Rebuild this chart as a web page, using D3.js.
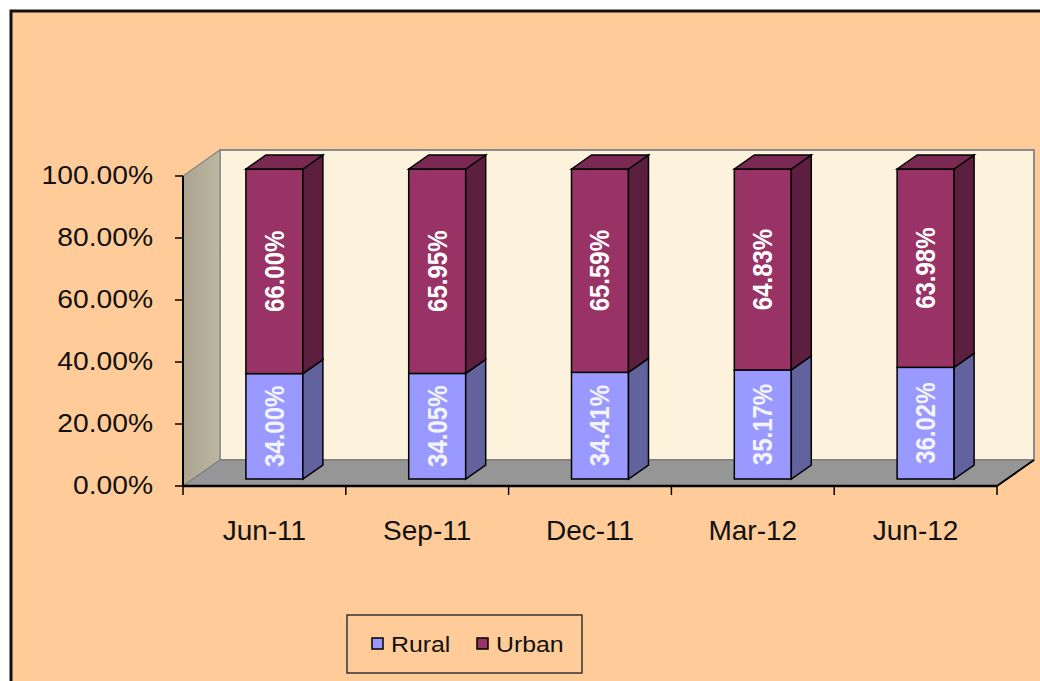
<!DOCTYPE html>
<html>
<head>
<meta charset="utf-8">
<script src="https://cdn.jsdelivr.net/npm/d3@7"></script>
<style>
  html, body { margin: 0; padding: 0; background: #fff; }
  svg { display: block; font-family: "Liberation Sans", Arial, sans-serif; }
</style>
</head>
<body>
<div id="chart"></div>
<script>
// Chart data
const categories = ["Jun-11", "Sep-11", "Dec-11", "Mar-12", "Jun-12"];
const rural = [34.00, 34.05, 34.41, 35.17, 36.02];
const urban = [66.00, 65.95, 65.59, 64.83, 63.98];
const yTicks = [0, 20, 40, 60, 80, 100];
const seriesNames = ["Rural", "Urban"];

const width = 1040, height = 681;

// 3D geometry: wall depth and bar depth
const wallDX = 37, wallDY = 26;
const barOffX = 10, barOffY = 7;
const barDX = 20, barDY = 14;

const svg = d3.select("#chart")
  .append("svg")
  .attr("width", width)
  .attr("height", height);

// Outer frame
svg.append("rect")
  .attr("x", 11).attr("y", 11)
  .attr("width", 1200).attr("height", 1000)
  .attr("fill", "#ffcc99")
  .attr("stroke", "#111")
  .attr("stroke-width", 3);

const x = d3.scaleBand()
  .domain(categories)
  .range([183, 997]);

const y = d3.scaleLinear()
  .domain([0, 100])
  .range([486, 176]);

const color = d3.scaleOrdinal()
  .domain(seriesNames)
  .range(["#9999ff", "#993366"]);
const sideColor = d3.scaleOrdinal()
  .domain(seriesNames)
  .range(["#62629e", "#5c1f3f"]);
const topColor = d3.scaleOrdinal()
  .domain(seriesNames)
  .range(["#7a7ad0", "#7a2952"]);

const defs = svg.append("defs");
const sideGrad = defs.append("linearGradient")
  .attr("id", "sideWall")
  .attr("x1", "0").attr("x2", "1").attr("y1", "0").attr("y2", "0");
sideGrad.append("stop").attr("offset", "0").attr("stop-color", "#aaa38f");
sideGrad.append("stop").attr("offset", "1").attr("stop-color", "#bdb6a1");

const x0 = x.range()[0], x1 = x.range()[1];
const yTop = y(100), yBot = y(0);

const poly = pts => pts.map(p => p.join(",")).join(" ");

// Back wall
svg.append("polygon")
  .attr("points", poly([[x0 + wallDX, yTop - wallDY], [x1 + wallDX, yTop - wallDY],
                        [x1 + wallDX, yBot - wallDY], [x0 + wallDX, yBot - wallDY]]))
  .attr("fill", "#fdf2dc")
  .attr("stroke", "#8c8c8c")
  .attr("stroke-width", 2);

// Side wall
svg.append("polygon")
  .attr("points", poly([[x0, yTop], [x0 + wallDX, yTop - wallDY],
                        [x0 + wallDX, yBot - wallDY], [x0, yBot]]))
  .attr("fill", "url(#sideWall)")
  .attr("stroke", "#8c8c8c")
  .attr("stroke-width", 1.5);

// Floor
svg.append("polygon")
  .attr("points", poly([[x0, yBot], [x0 + wallDX, yBot - wallDY],
                        [x1 + wallDX, yBot - wallDY], [x1, yBot]]))
  .attr("fill", "#969696")
  .attr("stroke", "#777")
  .attr("stroke-width", 1);
svg.append("line")
  .attr("x1", x1).attr("y1", yBot)
  .attr("x2", x1 + wallDX).attr("y2", yBot - wallDY)
  .attr("stroke", "#000").attr("stroke-width", 2);

// Stacked bars
const stackData = categories.map((c, i) => ({ cat: c, Rural: rural[i], Urban: urban[i] }));
const stacked = d3.stack().keys(seriesNames)(stackData);

const barW = x.bandwidth() * 0.35;

categories.forEach((cat, i) => {
  const g = svg.append("g");
  const bx = x(cat) + (x.bandwidth() - barW) / 2 + barOffX;
  stacked.forEach((layer, li) => {
    const key = layer.key;
    const ya = y(layer[i][1]) - barOffY;
    const yb = y(layer[i][0]) - barOffY;
    // front face
    g.append("rect")
      .attr("x", bx).attr("y", ya)
      .attr("width", barW).attr("height", yb - ya)
      .attr("fill", color(key))
      .attr("stroke", "#000").attr("stroke-width", 1.5);
    // side face
    g.append("polygon")
      .attr("points", poly([[bx + barW, ya], [bx + barW + barDX, ya - barDY],
                            [bx + barW + barDX, yb - barDY], [bx + barW, yb]]))
      .attr("fill", sideColor(key))
      .attr("stroke", "#000").attr("stroke-width", 1.5);
    // top face only on the last segment
    if (li === stacked.length - 1) {
      g.append("polygon")
        .attr("points", poly([[bx, ya], [bx + barDX, ya - barDY],
                              [bx + barW + barDX, ya - barDY], [bx + barW, ya]]))
        .attr("fill", topColor(key))
        .attr("stroke", "#000").attr("stroke-width", 1.5);
    }
    // value label, rotated
    g.append("text")
      .attr("transform", `translate(${bx + barW / 2},${(ya + yb) / 2}) rotate(-90) scale(1,1.12)`)
      .attr("text-anchor", "middle")
      .attr("dominant-baseline", "central")
      .attr("font-size", 24)
      .attr("font-weight", "bold")
      .attr("fill", key === "Rural" ? "#f4f4ff" : "#fff")
      .text(layer[i].data[key].toFixed(2) + "%");
  });
});

// Y axis
svg.append("line")
  .attr("x1", x0).attr("x2", x0)
  .attr("y1", yTop).attr("y2", yBot)
  .attr("stroke", "#000").attr("stroke-width", 2);
const yt = svg.append("g").selectAll("g")
  .data(yTicks).enter().append("g");
yt.append("line")
  .attr("x1", x0 - 8).attr("x2", x0)
  .attr("y1", d => y(d)).attr("y2", d => y(d))
  .attr("stroke", "#000").attr("stroke-width", 1.5);
yt.append("text")
  .attr("transform", d => `translate(153,${y(d)}) scale(1.13,1)`)
  .attr("text-anchor", "end")
  .attr("dominant-baseline", "central")
  .attr("font-size", 25)
  .attr("fill", "#111")
  .text(d => d.toFixed(2) + "%");

// X axis
svg.append("line")
  .attr("x1", x0).attr("x2", x1)
  .attr("y1", yBot).attr("y2", yBot)
  .attr("stroke", "#000").attr("stroke-width", 2.5);
svg.append("g").selectAll("line")
  .data(categories.map(c => x(c)).concat([x1]))
  .enter().append("line")
  .attr("x1", d => d).attr("x2", d => d)
  .attr("y1", yBot).attr("y2", yBot + 9)
  .attr("stroke", "#000").attr("stroke-width", 1.5);
svg.append("g").selectAll("text")
  .data(categories)
  .enter().append("text")
  .attr("x", d => x(d) + x.bandwidth() / 2)
  .attr("y", 540)
  .attr("text-anchor", "middle")
  .attr("font-size", 28)
  .attr("fill", "#111")
  .text(d => d);

// Legend
const legend = svg.append("g");
legend.append("rect")
  .attr("x", 347).attr("y", 615)
  .attr("width", 235).attr("height", 58)
  .attr("fill", "none")
  .attr("stroke", "#333").attr("stroke-width", 1.5);
const legendX = [372, 477];
seriesNames.forEach((s, i) => {
  legend.append("rect")
    .attr("x", legendX[i]).attr("y", 638)
    .attr("width", 11).attr("height", 11)
    .attr("fill", color(s))
    .attr("stroke", "#000").attr("stroke-width", 1.5);
  legend.append("text")
    .attr("transform", `translate(${legendX[i] + 19},${652}) scale(1.13,1)`)
    .attr("font-size", 22)
    .attr("fill", "#111")
    .text(s);
});
</script>
</body>
</html>
